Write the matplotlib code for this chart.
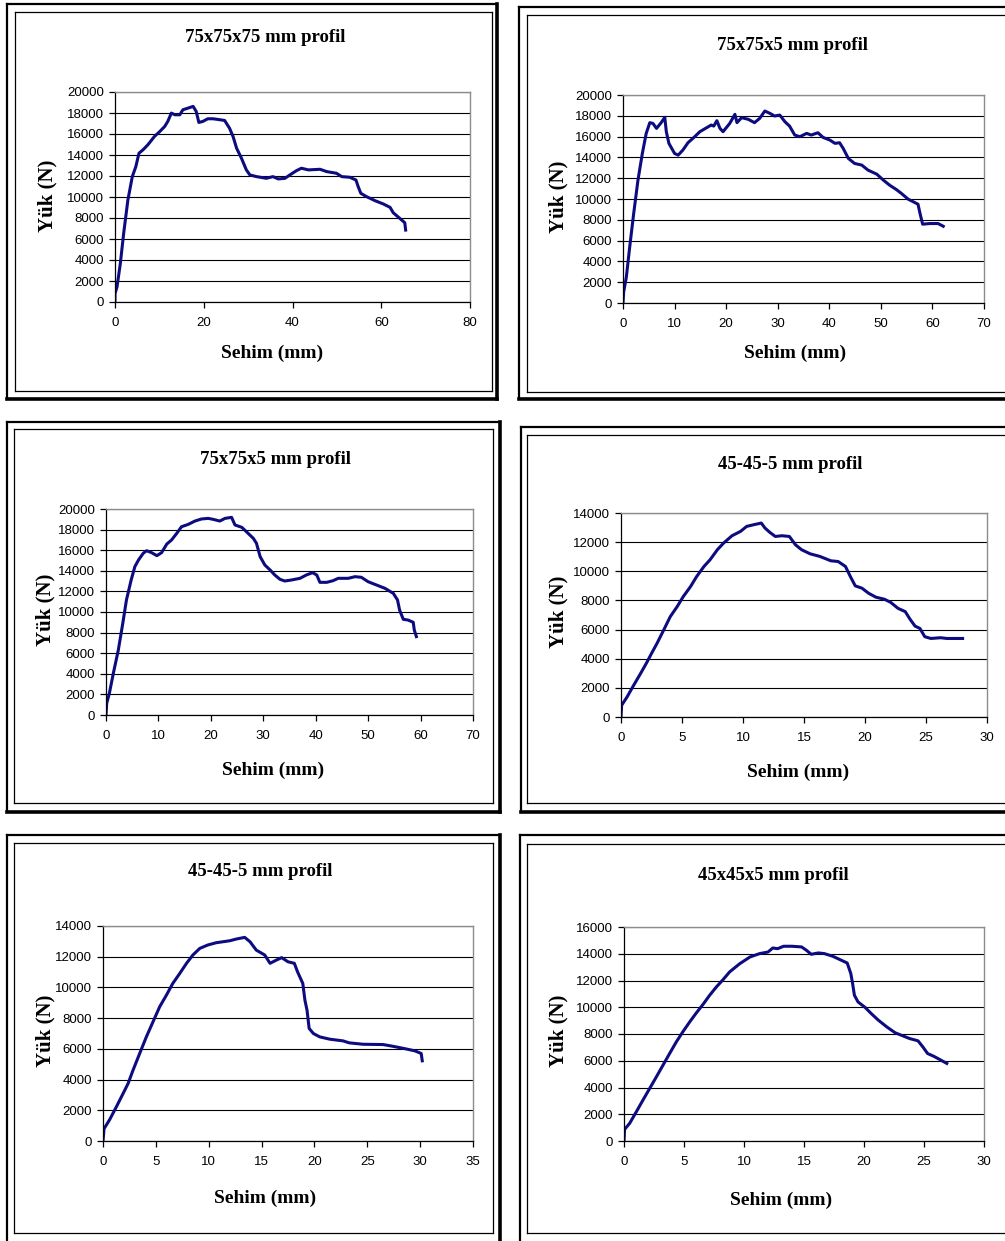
import numpy as np
import matplotlib.pyplot as plt
from matplotlib.lines import Line2D

W, H = 1005, 1241

# --- data (deflection mm, load N) ---
x1 = [0, 0, 0.45, 1.2, 1.95, 2.9, 3.9, 4.7, 5.4, 6.3, 7.4, 8.9, 10.1, 11.2, 11.9, 12.7,
      13.5, 14.6, 15.3, 16.5, 17.6, 18.3, 18.9, 19.8, 20.9, 22.1, 23.6, 24.7, 25.8, 26.6,
      27.4, 28.5, 29.6, 30.4, 31.9, 34.1, 35.6, 36.8, 38.3, 39.4, 40.9, 42.0, 43.6, 46.2,
      47.7, 49.9, 51.1, 52.9, 54.3, 54.8, 55.4, 56.7, 58.6, 60.5, 62.0, 62.7, 64.2, 65.3, 65.5]
y1 = [0, 800, 1430, 3660, 6530, 9710, 11940, 12900, 14170, 14490, 14970, 15770, 16240, 16720,
      17200, 17990, 17830, 17830, 18310, 18470, 18630, 18150, 17100, 17200, 17450, 17450,
      17360, 17290, 16560, 15770, 14650, 13690, 12580, 12100, 11940, 11780, 11940, 11720,
      11780, 12100, 12510, 12740, 12580, 12640, 12420, 12260, 11940, 11880, 11620, 10990,
      10350, 10030, 9650, 9330, 9010, 8500, 7960, 7550, 6850]

x2 = [0, 0.13, 0.65, 1.3, 2.07, 2.9, 3.75, 4.5, 5.2, 5.8, 6.5, 7.4, 8.1, 8.4, 8.9, 10.0, 10.7,
      11.6, 12.6, 13.9, 14.9, 16.2, 17.1, 17.6, 18.2, 18.8, 19.4, 20.7, 21.7, 22.1, 23.0, 24.3,
      25.5, 26.5, 27.5, 28.5, 29.4, 30.4, 31.4, 32.3, 33.3, 34.3, 35.6, 36.5, 37.8, 38.8, 40.1,
      41.1, 42.0, 42.7, 43.7, 44.9, 46.3, 47.5, 49.2, 50.5, 51.7, 53.0, 54.0, 55.3, 56.3, 57.2,
      57.6, 58.1, 59.5, 61.1, 62.1]
y2 = [0, 1060, 2500, 5390, 8600, 11810, 14380, 16310, 17340, 17270, 16790, 17340, 17850, 16470,
      15350, 14380, 14220, 14700, 15410, 15990, 16470, 16850, 17110, 17010, 17530, 16790, 16470,
      17270, 18140, 17340, 17820, 17660, 17340, 17750, 18460, 18230, 17980, 18070, 17430, 17010,
      16150, 15990, 16310, 16150, 16370, 15920, 15670, 15350, 15410, 14860, 13900, 13420, 13260,
      12780, 12390, 11810, 11330, 10910, 10530, 9980, 9730, 9500, 8600, 7580, 7640, 7640, 7380]

x3 = [0, 0.13, 0.64, 1.4, 2.35, 3.2, 3.9, 4.8, 5.5, 6.2, 7.1, 7.75, 8.7, 9.7, 10.6, 11.6, 12.5,
      13.5, 14.4, 15.7, 16.96, 18.2, 19.5, 20.5, 21.7, 22.7, 23.95, 24.6, 25.9, 27.1, 28.1, 28.7,
      29.4, 30.3, 31.3, 32.2, 33.2, 34.1, 35.4, 37.0, 38.2, 39.4, 40.2, 40.8, 42.1, 43.3, 44.3,
      46.2, 47.5, 48.7, 50.0, 51.6, 53.2, 54.8, 55.6, 56.0, 56.7, 57.6, 58.6, 58.8, 59.2]
y3 = [0, 1130, 2100, 4050, 6310, 8900, 11170, 13110, 14400, 15050, 15700, 15950, 15760, 15470,
      15760, 16600, 16990, 17640, 18280, 18510, 18830, 19030, 19090, 18990, 18830, 19090, 19190,
      18450, 18220, 17640, 17150, 16670, 15370, 14560, 14080, 13590, 13170, 13010, 13110, 13270,
      13590, 13820, 13590, 12880, 12880, 13040, 13270, 13270, 13430, 13370, 12940, 12620, 12300,
      11810, 11170, 10190, 9290, 9220, 9000, 8250, 7610]

x4 = [0, 0.05, 0.5, 1.04, 1.6, 2.1, 2.5, 2.95, 3.5, 4.04, 4.6, 5.1, 5.7, 6.2, 6.8, 7.3, 7.9, 8.4,
      9.1, 9.8, 10.3, 10.9, 11.5, 11.8, 12.2, 12.65, 13.2, 13.8, 14.3, 14.8, 15.5, 16.3, 17.2,
      17.8, 18.4, 18.8, 19.2, 19.75, 20.3, 20.9, 21.6, 22.1, 22.7, 23.3, 23.7, 24.1, 24.5, 24.9,
      25.4, 26.2, 26.7, 28.0]
y4 = [0, 800, 1380, 2180, 2980, 3720, 4360, 5050, 5970, 6890, 7570, 8260, 8950, 9640, 10330,
      10790, 11480, 11930, 12440, 12740, 13080, 13200, 13310, 12970, 12670, 12390, 12440, 12390,
      11820, 11480, 11200, 11020, 10720, 10670, 10330, 9640, 9000, 8840, 8490, 8220, 8080, 7870,
      7460, 7230, 6700, 6240, 6080, 5510, 5390, 5440, 5390, 5390]

x5 = [0, 0.1, 0.63, 1.26, 1.9, 2.37, 2.84, 3.47, 4.1, 4.73, 5.36, 6.0, 6.6, 7.26, 7.9, 8.5, 9.15,
      9.9, 10.7, 12.0, 12.6, 13.4, 13.9, 14.5, 15.3, 15.8, 16.4, 16.9, 17.5, 18.1, 18.4, 18.9,
      19.1, 19.3, 19.5, 19.9, 20.5, 21.45, 22.7, 23.3, 24.6, 26.5, 27.4, 28.5, 29.5, 30.1, 30.2]
y5 = [0, 800, 1390, 2220, 3090, 3740, 4610, 5700, 6780, 7760, 8740, 9500, 10260, 10910, 11570,
      12110, 12540, 12760, 12910, 13040, 13150, 13260, 12980, 12430, 12110, 11570, 11780, 11940,
      11670, 11570, 11020, 10260, 9170, 8520, 7330, 7000, 6780, 6630, 6520, 6390, 6300, 6280,
      6170, 6020, 5870, 5700, 5220]

x6 = [0, 0.05, 0.47, 1.03, 1.58, 2.14, 2.7, 3.25, 3.8, 4.36, 4.9, 5.48, 6.03, 6.6, 7.14, 7.7,
      8.26, 8.8, 9.65, 10.5, 11.3, 12.0, 12.4, 12.8, 13.3, 14.0, 14.8, 15.2, 15.6, 16.2, 16.7,
      17.4, 18.0, 18.6, 18.9, 19.05, 19.2, 19.5, 20.1, 20.6, 21.2, 21.9, 22.6, 23.3, 23.8, 24.5,
      24.9, 25.3, 25.8, 26.3, 26.9]
y6 = [0, 870, 1320, 2190, 3060, 3930, 4800, 5670, 6540, 7410, 8160, 8910, 9580, 10230, 10900,
      11520, 12070, 12640, 13260, 13760, 14010, 14130, 14430, 14380, 14560, 14560, 14510, 14260,
      13960, 14060, 14010, 13810, 13560, 13310, 12520, 11770, 10900, 10400, 9980, 9530, 9030,
      8530, 8090, 7840, 7660, 7490, 7040, 6540, 6340, 6100, 5800]

titles = ['75x75x75 mm profil', '75x75x5 mm profil', '75x75x5 mm profil',
          '45-45-5 mm profil', '45-45-5 mm profil', '45x45x5 mm profil']
xmax = [80, 70, 70, 30, 35, 30]
xstep = [20, 10, 10, 5, 5, 5]
ymax = [20000, 20000, 20000, 14000, 14000, 16000]
ystep = 2000
series = [(x1, y1), (x2, y2), (x3, y3), (x4, y4), (x5, y5), (x6, y6)]

# --- layout in pixels (left, top, right, bottom) ---
axes_px = [(115, 92, 470, 302), (623, 95, 984, 303), (106, 509, 473, 715),
           (621, 513, 987, 717), (103, 926, 473, 1141), (624, 927, 984, 1141)]
outer_px = [(7, 4, 497, 399), (519, 7, 1012, 399), (7, 422, 500, 812),
            (521, 427, 1012, 812), (7, 835, 500, 1248), (520, 835, 1012, 1248)]
inner_px = [(15, 12, 492, 391), (527, 15, 1012, 392), (14, 429, 493, 803),
            (527, 435, 1012, 803), (14, 843, 493, 1233), (527, 844, 1012, 1233)]
title_px = [(265, 38), (792, 46), (275, 460), (790, 465), (260, 872), (773, 875)]
xlab_px = [(272, 353), (795, 353), (273, 770), (798, 772), (265, 1198), (781, 1200)]
ylab_px = [(47, 196), (558, 197), (45, 610), (558, 612), (45, 1031), (558, 1031)]

serif = ['Liberation Serif', 'DejaVu Serif']
sans = ['Liberation Sans', 'DejaVu Sans']
navy = '#0c0c80'

fig = plt.figure(figsize=(W / 100, H / 100), dpi=100)


def fx(x):
    return x / W


def fy(y):
    return 1 - y / H


def hline(xa, xb, y, lw):
    fig.add_artist(Line2D([fx(xa), fx(xb)], [fy(y), fy(y)], color='black', lw=lw,
                          transform=fig.transFigure, solid_capstyle='projecting'))


def vline(x, ya, yb, lw):
    fig.add_artist(Line2D([fx(x), fx(x)], [fy(ya), fy(yb)], color='black', lw=lw,
                          transform=fig.transFigure, solid_capstyle='projecting'))


for i in range(6):
    # frames around each chart (shadowed outer box + thin inner box)
    l, t, r, b = outer_px[i]
    hline(l, r, t, 1.6)
    vline(l, t, b, 1.6)
    hline(l, r, b, 2.6)
    vline(r, t, b, 2.6)
    l, t, r, b = inner_px[i]
    hline(l, r, t, 0.9)
    vline(l, t, b, 0.9)
    hline(l, r, b, 0.9)
    vline(r, t, b, 0.9)

    l, t, r, b = axes_px[i]
    ax = fig.add_axes([fx(l), fy(b), (r - l) / W, (b - t) / H])
    xs, ys = series[i]
    ax.plot(xs, ys, color=navy, lw=2.2, solid_joinstyle='round')
    ax.set_xlim(0, xmax[i])
    ax.set_ylim(0, ymax[i])
    ax.set_xticks(np.arange(0, xmax[i] + 1, xstep[i]))
    ax.set_yticks(np.arange(0, ymax[i] + 1, ystep))
    ax.grid(axis='y', color='black', lw=0.8)
    ax.set_axisbelow(True)
    for s in ['top', 'right']:
        ax.spines[s].set_color('#8c8c8c')
        ax.spines[s].set_linewidth(1.0)
    for s in ['left', 'bottom']:
        ax.spines[s].set_color('black')
        ax.spines[s].set_linewidth(0.9)
    ax.tick_params(axis='x', direction='out', length=4, width=0.9, pad=7)
    ax.tick_params(axis='y', direction='out', length=4, width=0.9, pad=4)
    for lab in ax.get_xticklabels() + ax.get_yticklabels():
        lab.set_family(sans)
        lab.set_fontsize(9.5)

    fig.text(fx(title_px[i][0]), fy(title_px[i][1]), titles[i], ha='center', va='center',
             family=serif, fontweight='bold', fontsize=13.5)
    fig.text(fx(xlab_px[i][0]), fy(xlab_px[i][1]), 'Sehim (mm)', ha='center', va='center',
             family=serif, fontweight='bold', fontsize=14)
    fig.text(fx(ylab_px[i][0]), fy(ylab_px[i][1]), 'Yük (N)', ha='center', va='center',
             rotation=90, family=serif, fontweight='bold', fontsize=15)

fig.savefig('out.png', dpi=100, facecolor='white')
